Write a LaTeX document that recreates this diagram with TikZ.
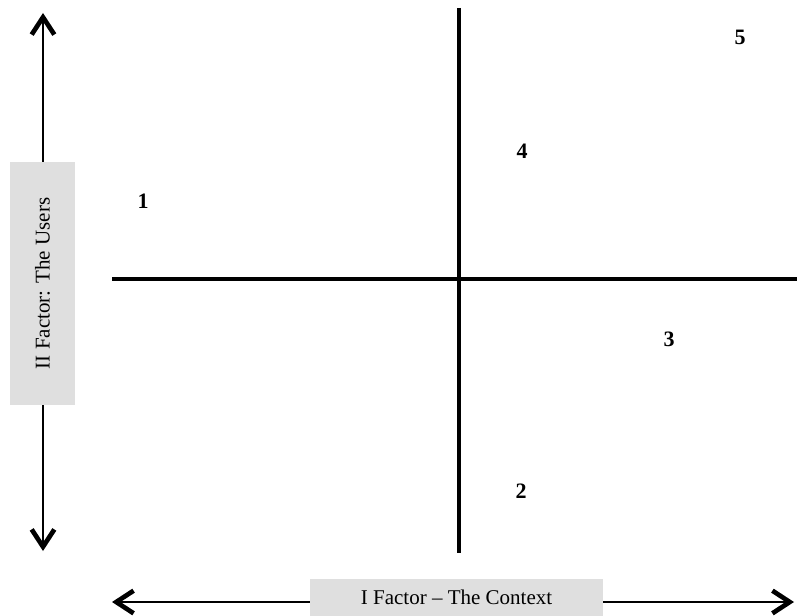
\documentclass[tikz,border=0pt]{standalone}
\usepackage{fontspec}
\setmainfont{Liberation Serif}
\usepackage{tikz}
\usetikzlibrary{arrows.meta, positioning}
\definecolor{BoxGray}{HTML}{DFDFDF}

\begin{document}
\begin{tikzpicture}[x=0.75pt, y=-0.75pt,
    axis/.style={line width=3pt},
    factorarrow/.style={line width=2pt, -{Straight Barb[length=13pt, width=17pt, line width=3.5pt]}},
    factorbox/.style={fill=BoxGray, inner sep=0pt, font=\fontsize{15.75}{19}\selectfont},
    quadnum/.style={font=\fontsize{16.5}{20}\selectfont\bfseries}]
    \useasboundingbox (0,0) rectangle (798,616);
    % the two factor axes
    \coordinate (hl) at (112,279);
    \coordinate (hr) at (797,279);
    \coordinate (vt) at (459,8);
    \coordinate (vb) at (459,553);
    \draw[axis] (hl) -- (hr);
    \draw[axis] (vt) -- (vb);
    % quadrant numbers
    \node[quadnum] (n1) at (143,201) {1};
    \node[quadnum] (n2) at (521,491) {2};
    \node[quadnum] (n3) at (669,339) {3};
    \node[quadnum] (n4) at (522,151) {4};
    \node[quadnum] (n5) at (740,37) {5};
    % factor labels with their arrows
    \node[factorbox, rotate=90, minimum width=182pt, minimum height=48.75pt] (users) at (42.5,283.5) {II Factor: The Users};
    \node[factorbox, minimum width=219.75pt, minimum height=27.75pt] (context) at (456.5,597.5) {I Factor -- The Context};
    \coordinate (utop) at (43,13);
    \coordinate (ubot) at (43,551);
    \coordinate (cleft) at (112,602);
    \coordinate (cright) at (794,602);
    \draw[factorarrow] (users.east -| utop) -- (utop);
    \draw[factorarrow] (users.west -| ubot) -- (ubot);
    \draw[factorarrow] (context.west |- cleft) -- (cleft);
    \draw[factorarrow] (context.east |- cright) -- (cright);
\end{tikzpicture}
\end{document}
